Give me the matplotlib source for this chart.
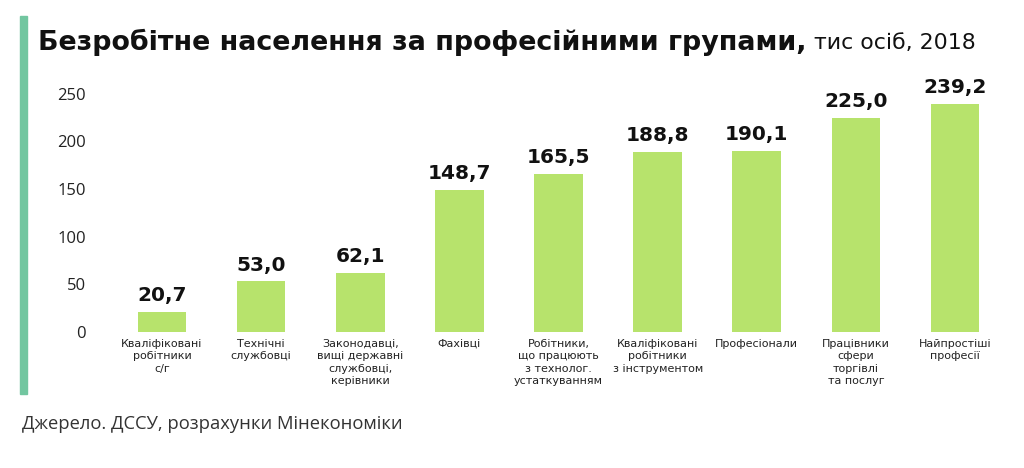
import matplotlib
matplotlib.use("Agg")
from matplotlib import pyplot as plt
from matplotlib.patches import Rectangle

categories = [
    "Кваліфіковані\nробітники\nс/г",
    "Технічні\nслужбовці",
    "Законодавці,\nвищі державні\nслужбовці,\nкерівники",
    "Фахівці",
    "Робітники,\nщо працюють\nз технолог.\nустаткуванням",
    "Кваліфіковані\nробітники\nз інструментом",
    "Професіонали",
    "Працівники\nсфери\nторгівлі\nта послуг",
    "Найпростіші\nпрофесії",
]
values = [20.7, 53.0, 62.1, 148.7, 165.5, 188.8, 190.1, 225.0, 239.2]
yticks = [0, 50, 100, 150, 200, 250]

BAR = "#b7e36c"
ACCENT = "#72c6a0"
W, H = 1024, 468

fig = plt.figure(figsize=(W / 100, H / 100), dpi=100)
fig.patch.set_facecolor("white")

# pixel layout: zero line at y=332, 0.953 px per unit, bars 99 px apart
x0, x1 = 102.5, 1014.5
y_zero = 332
ymax = 255
ax = fig.add_axes([x0 / W, (H - y_zero) / H, (x1 - x0) / W, ymax * 0.953 / H])

xs = range(len(values))
ax.bar(xs, values, width=0.49, color=BAR, zorder=2)
ax.set_xlim(-0.6, len(values) - 0.4)
ax.set_ylim(0, ymax)

for x, v in zip(xs, values):
    ax.annotate(f"{v:.1f}".replace(".", ","), (x, v), xytext=(0, 5),
                textcoords="offset points", ha="center", va="bottom",
                fontsize=14.5, fontweight="bold", family="DejaVu Sans",
                color="#111111", clip_on=False)

for s in ax.spines.values():
    s.set_visible(False)
ax.set_yticks(yticks)
ax.set_yticklabels([str(t) for t in yticks], fontsize=12, color="#222222",
                   family="Open Sans")
ax.tick_params(axis="y", length=0, pad=12)
ax.set_xticks(list(xs))
ax.set_xticklabels(categories, fontsize=8, color="#222222", family="DejaVu Sans",
                   linespacing=1.3, va="top")
ax.tick_params(axis="x", length=0, pad=5)

# left accent stripe
fig.patches.append(Rectangle((20 / W, (H - 394) / H), 7 / W, 378 / H,
                             transform=fig.transFigure, color=ACCENT))

t1 = fig.text(38 / W, 1 - 42 / H, "Безробітне населення за професійними групами,",
              fontsize=19.4, fontweight="bold", family="DejaVu Sans", va="center",
              color="#111111")
fig.canvas.draw()
bb = t1.get_window_extent()
fig.text(bb.x1 / W + 8 / W, 1 - 43 / H, "тис осіб, 2018", fontsize=15.8,
         family="DejaVu Sans", va="center", color="#111111")

fig.text(22 / W, 1 - 424 / H, "Джерело. ДССУ, розрахунки Мінекономіки",
         fontsize=13.2, family="Open Sans", va="center", color="#333333")

fig.savefig("out.png", dpi=100)
